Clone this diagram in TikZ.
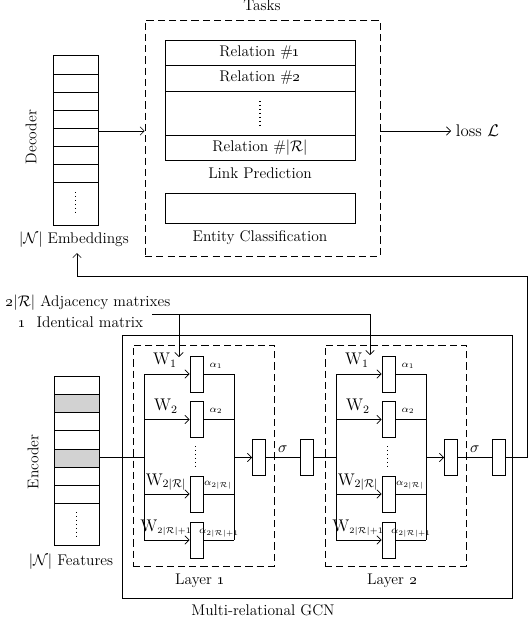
\documentclass[tikz,border=0pt]{standalone}
\usetikzlibrary{fit,arrows.meta}
\tikzset{
  gate/.style={draw, minimum width=0.335cm, minimum height=0.9cm, inner sep=0pt},
  dashbox/.style={draw, dash pattern=on 5pt off 3pt, inner sep=0pt},
  stack/.style={draw, inner sep=0pt},
  wlab/.style={font=\fontsize{11.5}{13}\selectfont},
  alab/.style={font=\scriptsize},
}
\begin{document}
\begin{tikzpicture}[x=0.025cm, y=-0.025cm, >={Straight Barb[length=3pt,width=6pt]},
  font=\fontsize{11}{13}\selectfont]
\useasboundingbox (0,0) rectangle (528,625);
% decoder side
\node[dashbox, fit={(145,20) (380,256)}] (tasks) {};
\node at (262,5) {Tasks};
\draw (165,40) rectangle (355,160);
\foreach \y in {65,91,135} \draw (165,\y) -- (355,\y);
\node (rel1) at (260,52.5) {Relation \#\oldstylenums{1}};
\node (rel2) at (260,78) {Relation \#\oldstylenums{2}};
\draw[dotted, thick] (260,101) -- (260,125);
\node (relr) at (260,148) {Relation \#$|\mathcal{R}|$};
\node (lp) at (260,173) {Link Prediction};
\draw (165,193) rectangle (355,223);
\node (ec) at (260,238) {Entity Classification};
\node[stack, fit={(53,55.7) (98,225)}] (emb) {};
\foreach \i in {1,...,7} \draw (53,55.7+18.1*\i) -- (98,55.7+18.1*\i);
\draw[dotted, thick] (75.5,192) -- (75.5,215);
\node[rotate=90] (dec) at (31,137) {Decoder};
\node (embtxt) at (74,240) {$|\mathcal{N}|$\ Embeddings};
\coordinate (row) at (0,131);
\draw[->] (emb.east |- row) -- (tasks.west |- row);
\node[anchor=west, font=\large] (loss) at (451,131) {loss $\mathcal{L}$};
\draw[->] (tasks.east |- loss) -- (loss.west);
% encoder side
\foreach \i in {1,4} \fill[gray!35] (54,376+18.2*\i) rectangle +(45,18.2);
\node[stack, fit={(54,376) (99,545.7)}] (feat) {};
\foreach \i in {1,...,7} \draw (54,376+18.2*\i) -- (99,376+18.2*\i);
\draw[dotted, thick] (76.5,512) -- (76.5,537);
\node[rotate=90] (enc) at (33,462) {Encoder};
\node (feattxt) at (71,562) {$|\mathcal{N}|$\ Features};
\node[anchor=west] (adj) at (1,303) {\oldstylenums{2}$|\mathcal{R}|$\ Adjacency matrixes};
\node[anchor=west] (ident) at (14,322) {\oldstylenums{1}\ \ Identical matrix};
\draw (122,335) rectangle (512,598);
\node (gcn) at (263,610) {Multi-relational GCN};
\foreach \dx/\n in {0/1,192/2} {
  \node[dashbox, fit={(133+\dx,345) (274+\dx,566)}] (layer\n) {};
  \node at (200+\dx,581) {Layer \oldstylenums{\n}};
  \coordinate (lb\n) at (144+\dx,0);
  \coordinate (rb\n) at (234+\dx,0);
  \foreach \r/\y in {1/374,2/419.5,3/494,4/540} {
    \node[gate] (g\n-\r) at (196.5+\dx,\y) {};
    \draw[->] (lb\n |- g\n-\r) -- (g\n-\r.west);
    \draw (g\n-\r.east) -- (rb\n |- g\n-\r);
  }
  \draw (lb\n |- g\n-1) -- (lb\n |- g\n-4);
  \draw (rb\n |- g\n-1) -- (rb\n |- g\n-4);
  \draw[dotted, thick] (195.5+\dx,446) -- (195.5+\dx,468);
  \node[wlab] (w1\n) at (165+\dx,360) {$\mathrm{W}_{1}$};
  \node[wlab] (w2\n) at (166+\dx,406) {$\mathrm{W}_{2}$};
  \node[wlab] (wr\n) at (166+\dx,482) {$\mathrm{W}_{2|\mathcal{R}|}$};
  \node[wlab] (wi\n) at (166+\dx,528) {$\mathrm{W}_{\scriptscriptstyle 2|\mathcal{R}|+1}$};
  \node[alab] (a1\n) at (216+\dx,366) {$\alpha_{1}$};
  \node[alab] (a2\n) at (216+\dx,411) {$\alpha_{2}$};
  \node[alab] (ar\n) at (218+\dx,485) {$\alpha_{2|\mathcal{R}|}$};
  \node[alab] (ai\n) at (219+\dx,533) {$\alpha_{2|\mathcal{R}|+1}$};
  \node[gate] (agg\n) at (259+\dx,457.5) {};
  \draw[->] (rb\n |- agg\n) -- (agg\n.west);
}
\node[gate] (sig1) at (306.5,457.5) {};
\node[gate] (sig2) at (498.5,457.5) {};
\draw (feat.east |- agg1) -- (lb1 |- agg1);
\draw (agg1.east) -- (sig1.west) node[midway, above] {$\sigma$};
\draw (sig1.east) -- (lb2 |- sig1);
\draw (agg2.east) -- (sig2.west) node[midway, above] {$\sigma$};
\coordinate (fb) at (527,276);
\coordinate (fbend) at (77,253);
\draw[->] (sig2.east) -| (fb) -| (fbend);
\coordinate (mtx) at (152,314);
\coordinate (in1) at (179,357);
\coordinate (in2) at (370,355);
\draw[->] (mtx) -| (in2);
\draw[->] (mtx -| in1) -- (in1);
\end{tikzpicture}
\end{document}
